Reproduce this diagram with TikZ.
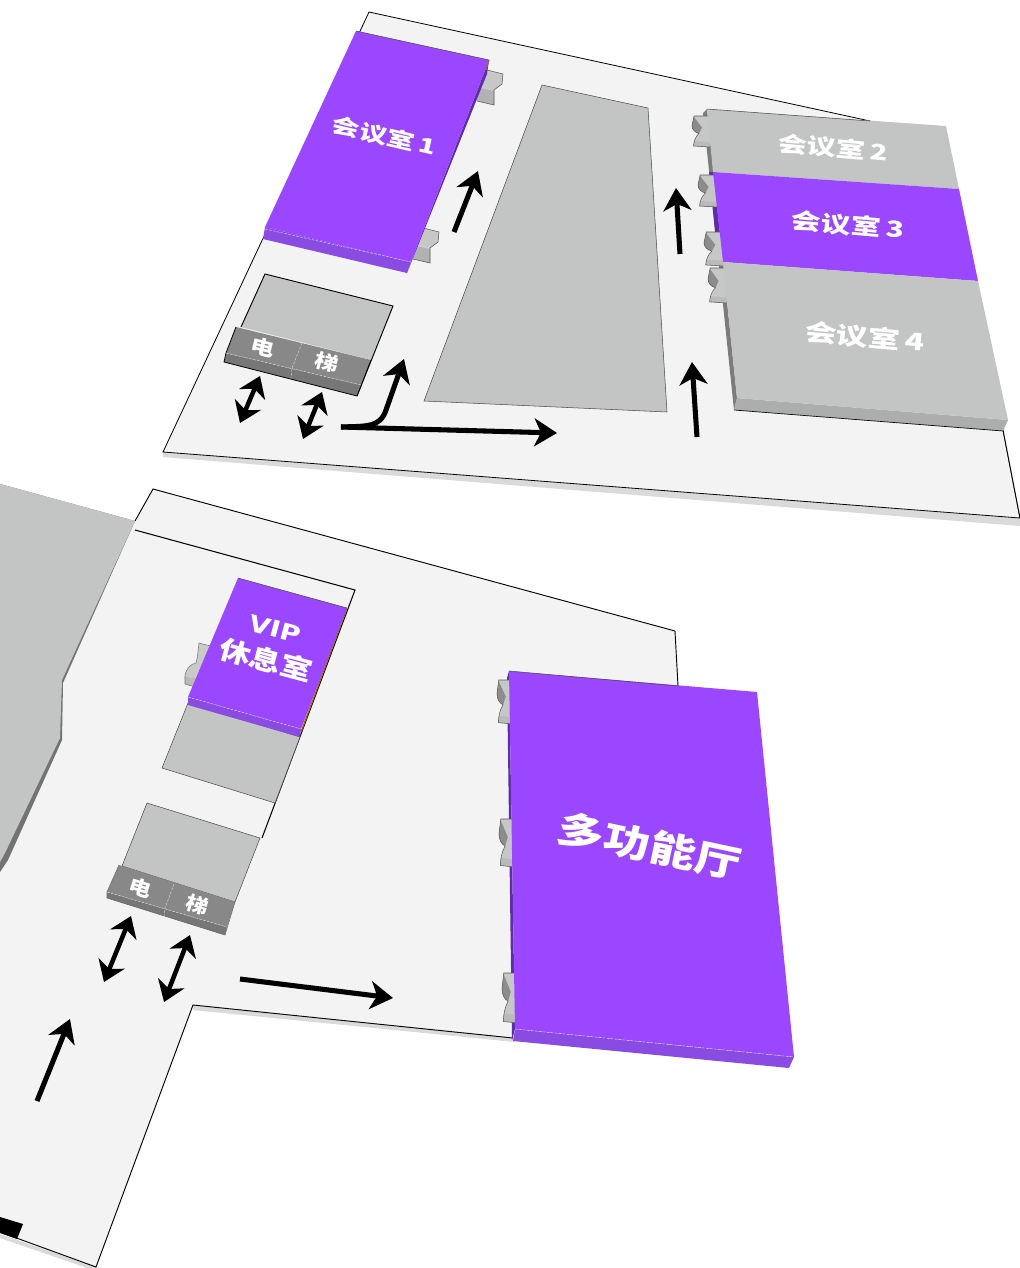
\documentclass[tikz,border=0pt]{standalone}
\usepackage{fontspec}
\setmainfont{DejaVu Sans}
\newfontfamily\cjk{Noto Sans CJK SC}
\usetikzlibrary{arrows.meta}
\definecolor{floorc}{HTML}{F3F3F3}
\definecolor{shadowc}{HTML}{DADADA}
\definecolor{grayc}{HTML}{C3C5C4}
\definecolor{frontgray}{HTML}{ACAEAD}
\definecolor{purplec}{HTML}{9A47FF}
\definecolor{purplefront}{HTML}{8A4BE3}
\definecolor{purpleside}{HTML}{5C2FA6}
\definecolor{sidegray}{HTML}{7C7C7C}
\definecolor{liftc}{HTML}{888888}
\definecolor{liftfront}{HTML}{777777}
\definecolor{orangec}{HTML}{A8620A}
\tikzset{
  x=0.75pt,y=-0.75pt,
  floorshape/.style={fill=floorc,draw=black,line width=0.6pt,line join=miter},
  shadowshape/.style={fill=shadowc,draw=none},
  graytop/.style={fill=grayc,draw=none},
  grayedge/.style={draw=black!70,line width=0.4pt},
  blackedge/.style={draw=black,line width=0.7pt},
  purpletop/.style={fill=purplec,draw=none},
  purplefr/.style={fill=purplefront,draw=none},
  purplesd/.style={fill=purpleside,draw=none},
  graysd/.style={fill=sidegray,draw=none},
  seam/.style={draw=white!75!gray,line width=0.3pt,dashed,dash pattern=on 2pt off 1pt},
  flow/.style={draw=black,line width=3.8pt,-{Stealth[length=17pt,width=21pt,inset=5pt]}},
  both/.style={draw=black,line width=3.4pt,{Stealth[length=15pt,width=21pt,inset=4.5pt]}-{Stealth[length=15pt,width=21pt,inset=4.5pt]}},
  roomtext/.style={text=white,font=\bfseries,inner sep=0pt,align=center,transform shape},
}
\newcommand{\doorL}[4]{%
  \begin{scope}[shift={(#1,#2)},xscale=#3/16,yscale=#4/32]
    \fill[grayc!95!white] (2,0) -- (18,0) -- (18,32) -- (1.5,31) .. controls (2,26) and (3,22) .. (7,18) .. controls (3,17) and (0,14) .. (0,10) -- cycle;
    \fill[black!45] (2,1) -- (0,10) .. controls (0,14) and (3,17) .. (7,18) -- (10,12) -- cycle;
    \fill[black!27] (2,26) -- (18,27) -- (18,32) -- (1.5,31) -- cycle;
    \draw[black!65,line width=0.4pt] (18,0) -- (2,0) -- (0,10) .. controls (0,14) and (3,17) .. (7,18) .. controls (3,22) and (2,26) .. (1.5,31) -- (18,32);
  \end{scope}}
\newcommand{\doorR}[2]{%
  \begin{scope}[shift={(#1,#2)}]
    \fill[grayc!90!white] (0,0) -- (16,4) -- (15,14) -- (7,20) -- (7,35) -- (-10,31) -- cycle;
    \fill[black!30] (-8,18) -- (7,21) -- (7,35) -- (-10,31) -- cycle;
    \fill[black!22] (-2,3) -- (16,5) -- (15,14) -- (7,20) -- (-6,14) -- cycle;
    \draw[black!65,line width=0.4pt] (0,0) -- (16,4) -- (15,14) -- (7,20) -- (7,35) -- (-10,31);
  \end{scope}}
\begin{document}
\begin{tikzpicture}
\useasboundingbox (0,0) rectangle (1020,1268);
\fill[white] (0,0) rectangle (1020,1268);

%% ---------- upper floor
\fill[shadowshape] (163,452) -- (1020,518) -- (1020,526) -- (163,457) -- cycle;
\filldraw[floorshape] (369,12) -- (870,121) -- (1003,430) -- (1020,518) -- (163,452) -- cycle;
\fill[white] (870,121) -- (1020,121) -- (1020,518) -- (1003,430) -- cycle;
\draw[blackedge] (1003,430) -- (1020,518);

% central block
\filldraw[graytop,grayedge] (542,85) -- (648,108) -- (667,412) -- (424,401) -- cycle;

% room 1
\doorR{487}{70}
\doorR{423}{228}
\fill[purplesd] (489,60) -- (487,74) -- (407,273) -- (411,262) -- cycle;
\draw[orangec,line width=0.8pt] (489,60) -- (486,70);
\fill[purplefr] (265,227) -- (411,262) -- (407,273) -- (263,239) -- cycle;
\fill[purpletop] (356,31) -- (489,60) -- (411,262) -- (265,227) -- cycle;
\draw[black!70,line width=0.4pt] (356,31) -- (489,60);
\draw[seam] (265,229) -- (411,262);
\node[roomtext,rotate=-13,yscale=.74] (room1) at (384,136) {\fontsize{21pt}{21pt}\selectfont\cjk\bfseries 会议室\,1};

% lift block top
\filldraw[graytop] (265,274) -- (393,306) -- (372,360) -- (241,327) -- cycle;
\draw[blackedge] (241,327) -- (265,274) -- (393,306) -- (357,396);
\fill[liftfront] (226,353) -- (361,385) -- (357,396) -- (224,362) -- cycle;
\fill[liftc] (236,327) -- (371,360) -- (361,385) -- (226,353) -- cycle;
\draw[black,line width=0.6pt] (236,327) -- (226,353) -- (224,362) -- (357,396) -- (371,360);
\draw[seam] (226,353) -- (361,385);
\draw[seam] (302,343) -- (292,368) -- (291,378);
\node[roomtext,rotate=-14,yscale=.8] (lift1a) at (263,347) {\fontsize{18pt}{18pt}\selectfont\cjk\bfseries 电};
\node[roomtext,rotate=-14,yscale=.8] (lift1b) at (327,362) {\fontsize{18pt}{18pt}\selectfont\cjk\bfseries 梯};

% rooms 2-4
\fill[graysd] (707,109) -- (703,113) -- (734,410) -- (737,398) -- cycle;
\fill[purpleside] (713,172) -- (709,172) -- (718,262) -- (723,262) -- cycle;
\doorL{692}{116}{16}{31}
\doorL{698}{175}{17}{32}
\doorL{704}{232}{18}{34}
\doorL{708}{268}{17}{35}
\fill[frontgray] (737,398) -- (1008,420) -- (1003,431) -- (734,410) -- cycle;
\draw[black,line width=0.5pt] (734,410) -- (1003,431);
\fill[graytop] (707,109) -- (946,126) -- (959,189) -- (713,172) -- cycle;
\fill[purpletop] (713,172) -- (959,189) -- (978,281) -- (723,262) -- cycle;
\fill[graytop] (723,262) -- (978,281) -- (1008,420) -- (737,398) -- cycle;
\draw[black!70,line width=0.4pt] (707,109) -- (870,121);
\node[roomtext,rotate=-5,yscale=.74] (room2) at (833,148) {\fontsize{22pt}{22pt}\selectfont\cjk\bfseries 会议室\,2};
\node[roomtext,rotate=-5,yscale=.74] (room3) at (848,225) {\fontsize{22.5pt}{22.5pt}\selectfont\cjk\bfseries 会议室\,3};
\node[roomtext,rotate=-5,yscale=.74] (room4) at (865,337) {\fontsize{24pt}{24pt}\selectfont\cjk\bfseries 会议室\,4};

%% ---------- lower floor
\fill[shadowshape] (193,1005) -- (515,1038) -- (515,1042) -- (193,1010) -- cycle;
\fill[shadowshape] (0,1234) -- (96,1267) -- (96,1271) -- (0,1238) -- cycle;
\fill[floorc] (0,484) -- (135,521) -- (153,489) -- (675,631) -- (678,690) -- (513,1038) -- (193,1005) -- (96,1267) -- (0,1232) -- cycle;
\draw[blackedge] (135,521) -- (153,489) -- (675,631) -- (678,686);
\draw[blackedge] (513,1038) -- (193,1005) -- (96,1267) -- (0,1232);
\fill[black] (0,1217) -- (23,1224) -- (17,1239) -- (0,1233) -- cycle;

% big block on the left
\fill[black!55] (0,484) -- (135,521) -- (63,683) -- (62,740) -- (8,860) -- (0,872) -- cycle;
\fill[graytop] (0,484) -- (135,521) -- (62,680) -- (60,738) -- (5,853) -- (0,862) -- cycle;

% inner line
\draw[black,line width=0.8pt] (135,530) -- (355,590) -- (262,838);

% VIP
\fill[grayc!90!white] (199,643) -- (214,647) -- (214,690) -- (193,686) -- (185,684) -- (185,676) .. controls (186,668) and (191,664) .. (196,663) .. controls (198,656) and (198,650) .. (199,643) -- cycle;
\fill[black!27] (185,677) -- (195,678) -- (195,687) -- (185,684) -- cycle;
\draw[black!55,line width=0.4pt] (214,647) -- (199,643) .. controls (198,650) and (198,656) .. (196,663) .. controls (191,664) and (186,668) .. (185,676) -- (185,684) -- (195,687);
\filldraw[graytop,grayedge] (188,703) -- (300,737) -- (275,803) -- (162,768) -- cycle;
\draw[orangec,line width=1pt] (347,608) -- (301,732);
\fill[purplefr] (188,697) -- (301,729) -- (300,737) -- (188,705) -- cycle;
\fill[purpletop] (238,578) -- (347,608) -- (301,729) -- (188,697) -- cycle;
\draw[black!70,line width=0.4pt] (238,578) -- (347,608);
\draw[seam] (188,697) -- (301,729);
\node[roomtext,rotate=-15,yscale=.82] (vip) at (275,629) {\fontsize{21pt}{21pt}\selectfont VIP};
\node[roomtext,rotate=-15,yscale=.82] (vipb) at (266,660) {\fontsize{24pt}{24pt}\selectfont\cjk\bfseries 休息室};

% lift block lower
\filldraw[graytop,grayedge] (147,803) -- (260,838) -- (235,902) -- (122,866) -- cycle;
\fill[liftfront] (107,892) -- (227,927) -- (225,935) -- (107,898) -- cycle;
\fill[liftc] (119,865) -- (235,902) -- (227,927) -- (107,892) -- cycle;
\draw[black!60,line width=0.4pt] (119,865) -- (107,892) -- (107,898) -- (225,935) -- (235,902);
\draw[seam] (107,892) -- (227,927);
\draw[seam] (174,884) -- (165,908) -- (164,917);
\node[roomtext,rotate=-17,yscale=.85] (lift2a) at (140,888) {\fontsize{17pt}{17pt}\selectfont\cjk\bfseries 电};
\node[roomtext,rotate=-17,yscale=.85] (lift2b) at (197,905) {\fontsize{17pt}{17pt}\selectfont\cjk\bfseries 梯};

% hall
\fill[purpleside] (509,671) -- (507,678) -- (512,1040) -- (515,1029) -- cycle;
\doorL{497}{680}{14}{44}
\doorL{499}{819}{14}{48}
\doorL{502}{973}{14}{50}
\fill[purplefr] (515,1029) -- (794,1057) -- (789,1068) -- (513,1041) -- cycle;
\fill[purpletop] (509,671) -- (757,692) -- (794,1057) -- (515,1029) -- cycle;
\draw[black!70,line width=0.4pt] (509,671) -- (678,686);
\draw[seam] (515,1029) -- (794,1057);
\node[roomtext,rotate=-12,yscale=.8] (hall) at (650,846) {\fontsize{35pt}{35pt}\selectfont\cjk\bfseries 多功能厅};

%% ---------- arrows
\coordinate (a1s) at (454,232);   \coordinate (a1e) at (478,171);
\coordinate (a2s) at (680,254);   \coordinate (a2e) at (676,188);
\coordinate (a3s) at (697,437);   \coordinate (a3e) at (692,362);
\coordinate (a4s) at (341,427);   \coordinate (a4e) at (557,433);
\coordinate (a5e) at (404,359);
\coordinate (d1a) at (260,376);   \coordinate (d1b) at (240,423);
\coordinate (d2a) at (322,392);   \coordinate (d2b) at (303,439);
\coordinate (d3a) at (131,916);   \coordinate (d3b) at (104,982);
\coordinate (d4a) at (190,935);   \coordinate (d4b) at (164,1002);
\coordinate (a6s) at (240,979);   \coordinate (a6e) at (393,998);
\coordinate (a7s) at (37,1101);   \coordinate (a7e) at (70,1019);
\draw[flow] (a1s) -- (a1e);
\draw[flow] (a2s) -- (a2e);
\draw[flow] (a3s) -- (a3e);
\draw[flow] (a4s) .. controls (366,426) and (380,428) .. (386,410) -- (a5e);
\draw[flow] (a4s) -- (a4e);
\draw[flow] (a6s) -- (a6e);
\draw[flow] (a7s) -- (a7e);
\draw[both] (d1a) -- (d1b);
\draw[both] (d2a) -- (d2b);
\draw[both] (d3a) -- (d3b);
\draw[both] (d4a) -- (d4b);
\end{tikzpicture}
\end{document}
